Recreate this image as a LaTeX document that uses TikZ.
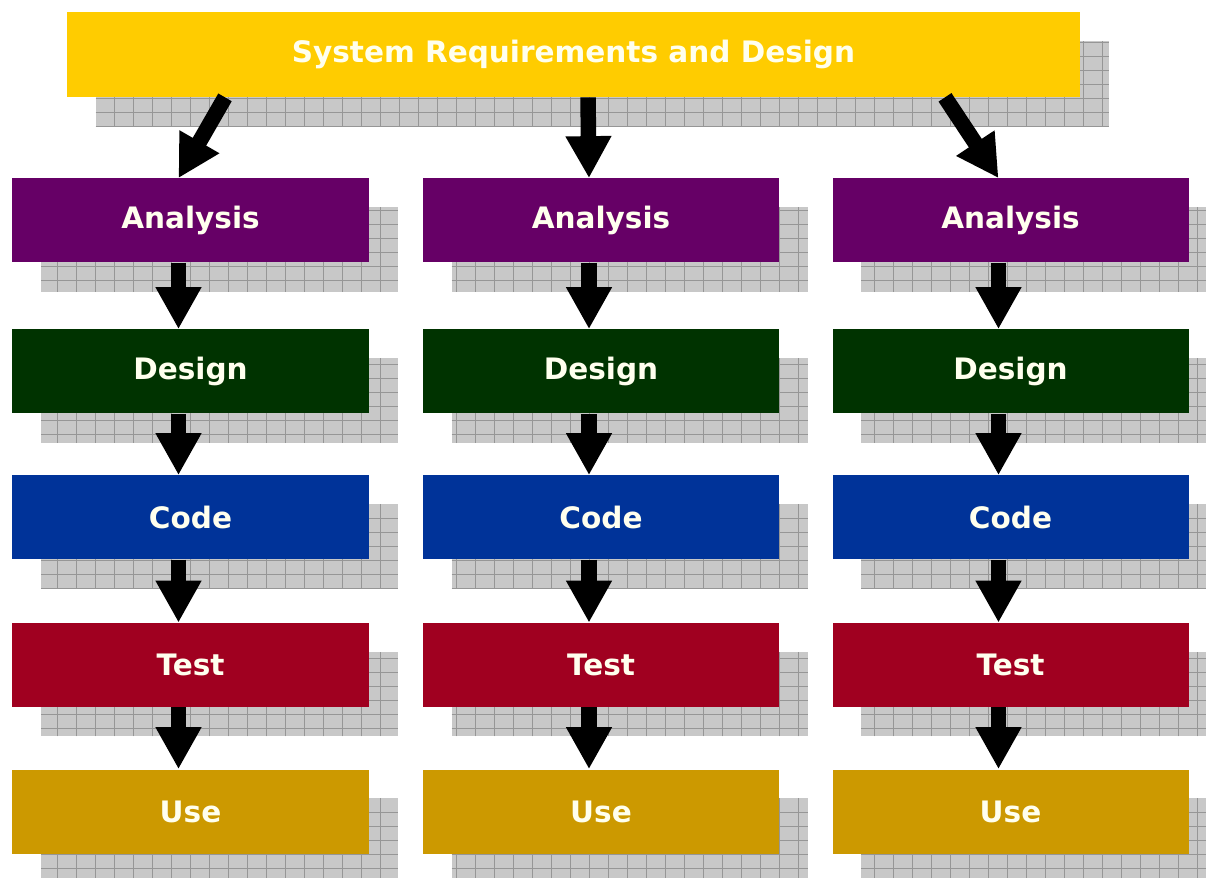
\documentclass[tikz,border=0pt]{standalone}
\usepackage{fontspec}
\setmainfont{DejaVu Sans}
\usepackage{tikz}
\usetikzlibrary{arrows.meta,positioning,backgrounds}

\definecolor{sysyellow}{RGB}{255,204,0}
\definecolor{anapurple}{RGB}{102,0,102}
\definecolor{desgreen}{RGB}{0,51,0}
\definecolor{codeblue}{RGB}{0,51,153}
\definecolor{testred}{RGB}{160,0,32}
\definecolor{usegold}{RGB}{204,153,0}
\definecolor{labelcream}{RGB}{255,255,238}
\definecolor{shadowgray}{RGB}{200,200,200}
\definecolor{shadowline}{RGB}{150,150,150}

\tikzset{
    phase/.style={minimum width=7.12cm, minimum height=1.68cm, inner sep=0pt,
        text=labelcream, font=\fontsize{16.8}{20}\selectfont\bfseries},
    flow/.style={line width=0.31cm,
        -{Triangle[width=0.86cm,length=0.84cm]}}
}

\newcommand{\gridshadow}[1]{%
    \fill[shadowgray] ([shift={(0.58,-0.58)}]#1.south west)
        rectangle ([shift={(0.58,-0.58)}]#1.north east);
    \draw[shadowline, line width=0.4pt, xstep=0.38, ystep=0.28]
        ([shift={(0.58,-0.58)}]#1.south west)
        grid ([shift={(0.58,-0.58)}]#1.north east);
}

\begin{document}
\begin{tikzpicture}
            \useasboundingbox (0,0) rectangle (24.12,-17.56);

            \node[phase, fill=sysyellow, minimum width=20.26cm, minimum height=1.7cm]
                (sys) at (11.47,-1.09) {System Requirements and Design};

            \node[phase, fill=anapurple] (ana1) at (3.81,-4.41) {Analysis};
            \node[phase, fill=anapurple] (ana2) at (12.02,-4.41) {Analysis};
            \node[phase, fill=anapurple] (ana3) at (20.21,-4.41) {Analysis};

            \node[phase, fill=desgreen] (des1) at (3.81,-7.43) {Design};
            \node[phase, fill=desgreen] (des2) at (12.02,-7.43) {Design};
            \node[phase, fill=desgreen] (des3) at (20.21,-7.43) {Design};

            \node[phase, fill=codeblue] (code1) at (3.81,-10.35) {Code};
            \node[phase, fill=codeblue] (code2) at (12.02,-10.35) {Code};
            \node[phase, fill=codeblue] (code3) at (20.21,-10.35) {Code};

            \node[phase, fill=testred] (test1) at (3.81,-13.30) {Test};
            \node[phase, fill=testred] (test2) at (12.02,-13.30) {Test};
            \node[phase, fill=testred] (test3) at (20.21,-13.30) {Test};

            \node[phase, fill=usegold] (use1) at (3.81,-16.23) {Use};
            \node[phase, fill=usegold] (use2) at (12.02,-16.23) {Use};
            \node[phase, fill=usegold] (use3) at (20.21,-16.23) {Use};

            % shadows behind the boxes
            \begin{scope}[on background layer]
                \foreach \n in {sys,ana1,ana2,ana3,des1,des2,des3,code1,code2,code3,
                                test1,test2,test3,use1,use2,use3}
                    {\gridshadow{\n}}
            \end{scope}

            \draw[flow] ([xshift=-6.97cm]sys.south) -- ([xshift=-0.24cm]ana1.north);
            \draw[flow] ([xshift=0.29cm]sys.south) -- ([xshift=-0.24cm]ana2.north);
            \draw[flow] ([xshift=7.43cm]sys.south) -- ([xshift=-0.24cm]ana3.north);

            \foreach \c in {1,2,3} {
                \draw[flow] ([xshift=-0.24cm]ana\c.south) -- ([xshift=-0.24cm]des\c.north);
                \draw[flow] ([xshift=-0.24cm]des\c.south) -- ([xshift=-0.24cm]code\c.north);
                \draw[flow] ([xshift=-0.24cm]code\c.south) -- ([xshift=-0.24cm]test\c.north);
                \draw[flow] ([xshift=-0.24cm]test\c.south) -- ([xshift=-0.24cm]use\c.north);
            }
        \end{tikzpicture}
\end{document}
